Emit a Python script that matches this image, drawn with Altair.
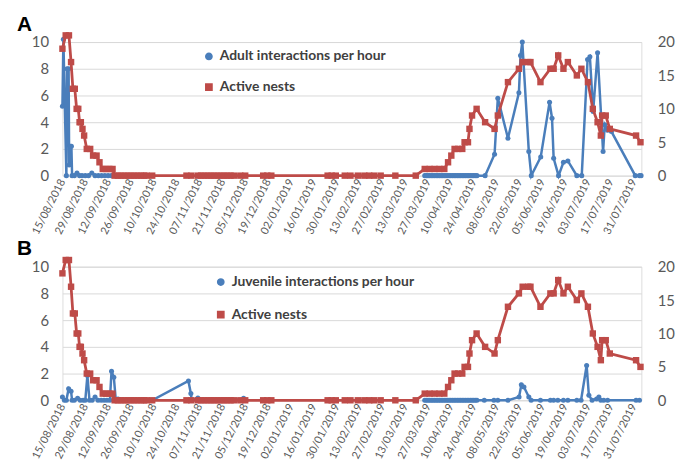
import altair as alt
import pandas as pd

BLUE = "#4A7EBB"
RED = "#BE4B48"
FONT = "Lato"
GREY = "#595959"

# x-axis tick labels (every 14 days)
tick_dates = ["2018-08-15", "2018-08-29", "2018-09-12", "2018-09-26", "2018-10-10", "2018-10-24",
              "2018-11-07", "2018-11-21", "2018-12-05", "2018-12-19", "2019-01-02", "2019-01-16",
              "2019-01-30", "2019-02-13", "2019-02-27", "2019-03-13", "2019-03-27", "2019-04-10",
              "2019-04-24", "2019-05-08", "2019-05-22", "2019-06-05", "2019-06-19", "2019-07-03",
              "2019-07-17", "2019-07-31"]
x_start = "2018-08-15T00:00"
x_end = "2019-08-04T18:00"

# Active nests (right axis, both panels)
red_dates = [
    "2018-08-15T00:00", "2018-08-17T00:00", "2018-08-19T00:00", "2018-08-20T07:00", "2018-08-21T10:00",
    "2018-08-22T14:00", "2018-08-23T17:00", "2018-08-24T17:00", "2018-08-25T12:00", "2018-08-26T07:00",
    "2018-08-27T07:00", "2018-08-28T07:00", "2018-08-29T22:00", "2018-09-01T00:00", "2018-09-02T19:00",
    "2018-09-04T22:00", "2018-09-06T17:00", "2018-09-08T17:00", "2018-09-10T17:00", "2018-09-12T17:00",
    "2018-09-14T17:00",
    "2018-09-16", "2018-09-18", "2018-09-20", "2018-09-22", "2018-09-24", "2018-09-26", "2018-09-28",
    "2018-09-30", "2018-10-02", "2018-10-04", "2018-10-05T12:00",
    "2018-10-09", "2018-10-30", "2018-11-02", "2018-11-06", "2018-11-08", "2018-11-10", "2018-11-12",
    "2018-11-14", "2018-11-16", "2018-11-18", "2018-11-20", "2018-11-22", "2018-11-24", "2018-11-26",
    "2018-11-28", "2018-12-02", "2018-12-05", "2018-12-16", "2018-12-18T12:00", "2018-12-21",
    "2019-01-24T12:00", "2019-01-27", "2019-01-29T12:00", "2019-02-04", "2019-02-07T12:00", "2019-02-12",
    "2019-02-16", "2019-02-19", "2019-02-22", "2019-02-26", "2019-03-07", "2019-03-19T12:00",
    "2019-03-25", "2019-03-28", "2019-03-31", "2019-04-03", "2019-04-06",
    "2019-04-08T07:00", "2019-04-10T07:00", "2019-04-12T07:00", "2019-04-14T12:00", "2019-04-17",
    "2019-04-18T10:00", "2019-04-20T12:00", "2019-04-21T10:00", "2019-04-23", "2019-04-25T19:00",
    "2019-05-01", "2019-05-06T19:00", "2019-05-08T19:00", "2019-05-15", "2019-05-21T17:00", "2019-05-24",
    "2019-05-27T10:00", "2019-05-28T19:00", "2019-06-03T22:00", "2019-06-10", "2019-06-12",
    "2019-06-14T19:00", "2019-06-18", "2019-06-20T17:00", "2019-06-26T05:00", "2019-06-29", "2019-07-03",
    "2019-07-06", "2019-07-08T22:00", "2019-07-10T22:00", "2019-07-11T17:00", "2019-07-13T22:00",
    "2019-07-16T10:00", "2019-08-01T12:00", "2019-08-04T05:00"]
red_values = [
    19, 21, 21, 17, 13,
    13, 10, 10, 8, 8,
    7, 6, 4, 4, 3,
    3, 2, 1, 1, 1,
    1,
    0, 0, 0, 0, 0, 0, 0,
    0, 0, 0, 0,
    0, 0, 0, 0, 0, 0, 0,
    0, 0, 0, 0, 0, 0, 0,
    0, 0, 0, 0, 0, 0,
    0, 0, 0, 0, 0, 0,
    0, 0, 0, 0, 0, 0,
    1, 1, 1, 1, 1,
    2, 3, 4, 4, 4,
    5, 5, 7, 9, 10,
    8, 7, 9, 14, 16, 17,
    17, 17, 14, 16, 16,
    18, 16, 17, 15, 16, 14,
    10, 8, 6, 9, 9,
    7, 6, 5]

# spring 2019 survey days with zero interactions (both panels)
spring_zero_dates = [
    "2019-03-25", "2019-03-26", "2019-03-27", "2019-03-28", "2019-03-29", "2019-03-30", "2019-03-31",
    "2019-04-01", "2019-04-02", "2019-04-03", "2019-04-04", "2019-04-05", "2019-04-06", "2019-04-07",
    "2019-04-08", "2019-04-09", "2019-04-10", "2019-04-11", "2019-04-12", "2019-04-13", "2019-04-14",
    "2019-04-15", "2019-04-16", "2019-04-17", "2019-04-18", "2019-04-19", "2019-04-20", "2019-04-21",
    "2019-04-22", "2019-04-23", "2019-04-24", "2019-04-25", "2019-04-26"]
spring_zero_values = [0] * len(spring_zero_dates)

# Panel A: adult interactions per hour (left axis)
adult_2018_dates = [
    "2018-08-15T00:00", "2018-08-15T14:00", "2018-08-17T10:00", "2018-08-17T20:00", "2018-08-18T19:00",
    "2018-08-19T03:00", "2018-08-19T21:00", "2018-08-20T12:00", "2018-08-20T22:00", "2018-08-22T08:00",
    "2018-08-23T22:00", "2018-08-25T12:00", "2018-08-27", "2018-08-29", "2018-08-31", "2018-09-02",
    "2018-09-04", "2018-09-06", "2018-09-08", "2018-09-10", "2018-09-12", "2018-09-14"]
adult_2018_values = [5.2, 10.2, 0, 8, 8, 0.8, 2.2, 2.2, 0, 0, 0.2, 0, 0, 0, 0, 0.2, 0, 0, 0, 0, 0, 0]
adult_2019_dates = [
    "2019-05-01", "2019-05-06T19:00", "2019-05-08T19:00", "2019-05-15", "2019-05-21T17:00",
    "2019-05-22T17:00", "2019-05-23T19:00", "2019-05-27T19:00", "2019-05-29T07:00", "2019-06-04T02:00",
    "2019-06-09T12:00", "2019-06-11", "2019-06-12", "2019-06-15", "2019-06-18", "2019-06-20T17:00",
    "2019-06-26T05:00", "2019-06-29T05:00", "2019-07-02T19:00", "2019-07-04T05:00", "2019-07-06T05:00",
    "2019-07-08T22:00", "2019-07-12T07:00", "2019-07-13T07:00", "2019-07-15", "2019-07-17T10:00",
    "2019-08-01", "2019-08-03T14:00", "2019-08-04T14:00"]
adult_2019_values = [0, 1.6, 5.8, 2.8, 6.2, 9.0, 10.0, 1.8, 0, 1.4,
                     5.5, 4.3, 1.3, 0, 1.0, 1.1, 0, 0, 8.7, 8.9, 4.8,
                     9.2, 1.8, 3.8, 3.4, 3.3, 0, 0, 0]

# Panel B: juvenile interactions per hour (left axis)
juv_2018_dates = [
    "2018-08-15T00:00", "2018-08-16T05:00", "2018-08-17T10:00", "2018-08-18T19:00", "2018-08-20T07:00",
    "2018-08-20T22:00", "2018-08-22T07:00", "2018-08-24T07:00", "2018-08-25T22:00", "2018-08-27T17:00",
    "2018-08-29", "2018-08-30T07:00", "2018-08-31T14:00", "2018-09-02T05:00", "2018-09-04",
    "2018-09-05T19:00", "2018-09-07T17:00", "2018-09-09T12:00", "2018-09-11T07:00", "2018-09-13T02:00",
    "2018-09-14T02:00", "2018-09-15T12:00", "2018-09-16T17:00", "2018-09-18T02:00", "2018-09-20",
    "2018-09-24", "2018-09-28", "2018-10-02", "2018-10-05T12:00", "2018-10-09",
    "2018-10-31T05:00", "2018-11-01T17:00", "2018-11-02T06:00", "2018-11-06", "2018-11-07T17:00",
    "2018-11-10", "2018-11-14", "2018-11-18", "2018-11-22", "2018-11-26", "2018-11-28",
    "2018-12-04", "2018-12-05T12:00"]
juv_2018_values = [0.25, 0, 0, 0.87, 0.67,
                   0, 0, 0.15, 0, 0,
                   0, 1.85, 0, 0, 0.25,
                   0, 0, 0, 0, 0,
                   2.17, 1.73, 0, 0.1, 0,
                   0, 0, 0, 0, 0,
                   1.45, 0.5, 0, 0.17, 0,
                   0, 0, 0, 0, 0, 0,
                   0.15, 0]
juv_2019_dates = [
    "2019-04-30T12:00", "2019-05-06T10:00", "2019-05-08T19:00", "2019-05-15", "2019-05-21T19:00",
    "2019-05-23T05:00", "2019-05-24T19:00", "2019-05-27T19:00", "2019-05-29T05:00", "2019-06-03T22:00",
    "2019-06-10", "2019-06-12", "2019-06-14T14:00", "2019-06-18", "2019-06-20T17:00", "2019-06-26T05:00",
    "2019-06-28T19:00", "2019-07-02T05:00", "2019-07-03T14:00", "2019-07-05T14:00", "2019-07-08T07:00",
    "2019-07-09T17:00", "2019-07-10T22:00", "2019-07-12T17:00", "2019-07-15T02:00", "2019-08-01T12:00",
    "2019-08-03T14:00"]
juv_2019_values = [0, 0, 0, 0, 0.25,
                   1.16, 1.0, 0.25, 0, 0,
                   0, 0, 0, 0, 0, 0,
                   0, 2.6, 0.37, 0, 0.1,
                   0.25, 0, 0, 0, 0,
                   0]

NESTS = "Active nests"


def frame(dates, values, series, seg):
    return pd.DataFrame({"date": pd.to_datetime(dates, format="ISO8601"), "value": values,
                         "series": series, "seg": seg})


def dt(s):
    t = pd.Timestamp(s)
    return alt.DateTime(year=t.year, month=t.month, date=t.day, hours=t.hour, minutes=t.minute)


x_enc = alt.X(
    "date:T",
    scale=alt.Scale(domain=[dt(x_start), dt(x_end)], nice=False),
    axis=alt.Axis(values=[dt(d) for d in tick_dates], format="%d/%m/%Y", labelAngle=-63,
                  labelAlign="right", labelBaseline="middle", labelFont=FONT, labelFontSize=11,
                  labelColor=GREY, labelPadding=4, labelOverlap=False, labelBound=False,
                  grid=False, domain=False, ticks=False, title=None),
)
y_left = alt.Y(
    "value:Q",
    scale=alt.Scale(domain=[0, 10], nice=False),
    axis=alt.Axis(values=[0, 2, 4, 6, 8, 10], orient="left", grid=True, gridColor="#D9D9D9",
                  gridWidth=1, domain=False, ticks=False, labelFont=FONT, labelFontSize=15,
                  labelColor=GREY, labelPadding=14, title=None),
)
y_right = alt.Y(
    "value:Q",
    scale=alt.Scale(domain=[0, 20], nice=False),
    axis=alt.Axis(values=[0, 5, 10, 15, 20], orient="right", grid=False, domain=False, ticks=False,
                  labelFont=FONT, labelFontSize=15, labelColor=GREY, labelPadding=16, title=None),
)


def make_legend(lx, ly, row_pad, label_offset):
    return alt.Legend(
        orient="none", legendX=lx, legendY=ly,
        labelFont=FONT, labelFontSize=14, labelFontWeight="bold", labelColor="#404040",
        labelLimit=400, symbolSize=40, rowPadding=row_pad, labelOffset=label_offset, title=None,
    )


def panel(letter, blue_label, blue_df, red_df, legend):
    cscale = alt.Scale(domain=[blue_label, NESTS], range=[BLUE, RED])
    sscale = alt.Scale(domain=[blue_label, NESTS], range=["circle", "square"])
    color = alt.Color("series:N", scale=cscale, legend=legend)
    shape = alt.Shape("series:N", scale=sscale, legend=legend)
    blue_line = alt.Chart(blue_df).mark_line(strokeWidth=2.5).encode(
        x=x_enc, y=y_left, color=color, detail="seg:N")
    blue_pts = alt.Chart(blue_df).mark_point(filled=True, size=26, opacity=1).encode(
        x=x_enc, y=y_left, color=color, shape=shape)
    red_line = alt.Chart(red_df).mark_line(strokeWidth=2.8).encode(
        x=x_enc, y=y_right, color=color)
    red_pts = alt.Chart(red_df).mark_point(filled=True, size=42, opacity=1).encode(
        x=x_enc, y=y_right, color=color, shape=shape)
    return alt.layer(alt.layer(blue_line, blue_pts), alt.layer(red_line, red_pts)).resolve_scale(
        y="independent"
    ).properties(
        width=585, height=135,
        title=alt.TitleParams(letter, anchor="start", frame="group", dx=-46, offset=-5, fontSize=21,
                              font="Liberation Sans", fontWeight="bold", color="black"),
    )


red_df = frame(red_dates, red_values, NESTS, 0)

adult_label = "Adult interactions per hour"
adult_df = pd.concat([
    frame(adult_2018_dates, adult_2018_values, adult_label, 0),
    frame(spring_zero_dates + adult_2019_dates, spring_zero_values + adult_2019_values, adult_label, 1),
])
juv_label = "Juvenile interactions per hour"
juv_df = pd.concat([
    frame(juv_2018_dates, juv_2018_values, juv_label, 0),
    frame(spring_zero_dates + juv_2019_dates, spring_zero_values + juv_2019_values, juv_label, 1),
])

panel_a = panel("A", adult_label, adult_df, red_df, make_legend(141, 7.5, 17, 4))
panel_b = panel("B", juv_label, juv_df, red_df, make_legend(153, 8.5, 19, 4))

chart = alt.vconcat(panel_a, panel_b, spacing=92, bounds="flush").resolve_scale(
    color="independent", shape="independent"
).resolve_legend(
    color="independent", shape="independent"
).properties(
    padding={"left": 8, "top": 3, "right": 2, "bottom": 2}
).configure_view(stroke=None).configure(background="white")

chart.save("out.html", embed_options={"renderer": "svg", "actions": False})
